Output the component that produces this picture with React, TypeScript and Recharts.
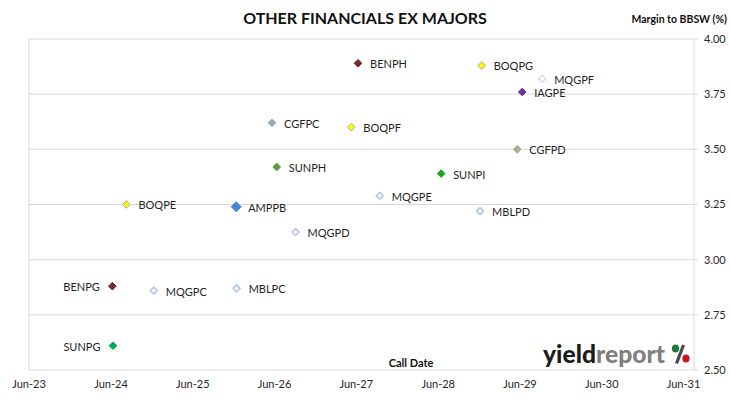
import {
  CartesianGrid,
  ReferenceLine,
  Scatter,
  ScatterChart,
  XAxis,
  YAxis
} from "recharts";

const names = [
  "BENPH", "BOQPG", "MQGPF", "IAGPE", "CGFPC", "BOQPF", "CGFPD", "SUNPH", "SUNPI",
  "MQGPE", "BOQPE", "AMPPB", "MBLPD", "MQGPD", "BENPG", "MQGPC", "MBLPC", "SUNPG"
];

const callDates = [
  "2027-06-09", "2028-12-12", "2029-09-08", "2029-06-11", "2026-05-21", "2027-05-10",
  "2029-05-20", "2026-06-11", "2028-06-14", "2027-09-14", "2024-08-09", "2025-12-12",
  "2028-12-05", "2026-09-03", "2024-06-07", "2024-12-09", "2025-12-14", "2024-06-10"
];

const margins = [
  3.89, 3.88, 3.82, 3.76, 3.62, 3.6, 3.5, 3.42, 3.39,
  3.29, 3.25, 3.24, 3.22, 3.125, 2.88, 2.86, 2.87, 2.61
];

const yTicks = [2.5, 2.75, 3.0, 3.25, 3.5, 3.75, 4.0];
const tickYears = [2023, 2024, 2025, 2026, 2027, 2028, 2029, 2030, 2031];

const X_MIN = Date.UTC(2023, 5, 1);
const X_MAX = Date.UTC(2031, 6, 18);
const xTicks = tickYears.map((y) => Date.UTC(y, 5, 1));

type MarkerStyle = { fill: string; stroke: string; r?: number; sw?: number };

const HOLLOW: MarkerStyle = { fill: "#ffffff", stroke: "#b4c6e4", sw: 1.6, r: 3.4 };
const YELLOW: MarkerStyle = { fill: "#ffff00", stroke: "#a6a6a6" };

const MARKER_STYLES: Record<string, MarkerStyle> = {
  BENPH: { fill: "#7b2c2c", stroke: "#5e1f1f" },
  BENPG: { fill: "#7b2c2c", stroke: "#5e1f1f" },
  BOQPE: YELLOW,
  BOQPF: YELLOW,
  BOQPG: YELLOW,
  MQGPC: HOLLOW,
  MQGPD: HOLLOW,
  MQGPE: HOLLOW,
  MQGPF: { fill: "#ffffff", stroke: "#ccd6e8", sw: 1.2, r: 3.6 },
  MBLPC: HOLLOW,
  MBLPD: HOLLOW,
  IAGPE: { fill: "#7030a0", stroke: "#6a2c98" },
  CGFPC: { fill: "#8eaec4", stroke: "#9aa5ab" },
  CGFPD: { fill: "#a4b58a", stroke: "#9ba38f" },
  SUNPH: { fill: "#5e9b3c", stroke: "#5a9338" },
  SUNPI: { fill: "#18a818", stroke: "#18a018" },
  SUNPG: { fill: "#00b050", stroke: "#00a04a" },
  AMPPB: { fill: "#4a86d6", stroke: "#4a80cc", r: 5 }
};

const LEFT_LABELS = ["BENPG", "SUNPG"];

const data = names.map((name, i) => ({
  name,
  date: Date.parse(callDates[i] + "T00:00:00Z"),
  margin: margins[i]
}));

const FONT = "Lato, 'Open Sans', sans-serif";

function renderPoint(props: any) {
  const { cx, cy, payload } = props;
  const st = MARKER_STYLES[payload.name] ?? { fill: "#888", stroke: "#888" };
  const r = st.r ?? 3.8;
  const left = LEFT_LABELS.includes(payload.name);
  return (
    <g>
      <path
        d={`M${cx},${cy - r}L${cx + r},${cy}L${cx},${cy + r}L${cx - r},${cy}Z`}
        fill={st.fill}
        stroke={st.stroke}
        strokeWidth={st.sw ?? 1}
      />
      <text
        x={left ? cx - 12.5 : cx + 12}
        y={cy + 1}
        dy="0.36em"
        textAnchor={left ? "end" : "start"}
        fontFamily={FONT}
        fontSize={11}
        fill="#1f1f1f"
      >
        {payload.name}
      </text>
    </g>
  );
}

const fmtDate = (t: number) => {
  const d = new Date(t);
  return "Jun-" + String(d.getUTCFullYear() % 100).padStart(2, "0");
};

export default function App() {
  return (
    <div style={{ position: "absolute", left: 0, top: 0, width: 730, height: 399, background: "#fff" }}>
      <ScatterChart
        width={730}
        height={399}
        margin={{ top: 39, right: 0, bottom: 0, left: 29 }}
      >
        <CartesianGrid stroke="#d9d9d9" vertical={false} />
        <XAxis
          type="number"
          dataKey="date"
          domain={[X_MIN, X_MAX]}
          ticks={xTicks}
          tickFormatter={fmtDate}
          height={29}
          axisLine={false}
          tickLine={false}
          tickSize={0}
          tickMargin={10}
          interval={0}
          allowDataOverflow
          tick={{ fill: "#262626", fontSize: 11, fontFamily: FONT }}
        />
        <YAxis
          type="number"
          dataKey="margin"
          orientation="right"
          domain={[2.5, 4]}
          ticks={yTicks}
          tickFormatter={(v: number) => v.toFixed(2)}
          width={36}
          axisLine={{ stroke: "#d9d9d9" }}
          tickLine={{ stroke: "#d9d9d9" }}
          tickSize={4}
          tickMargin={6}
          interval={0}
          allowDataOverflow
          tick={{ fill: "#262626", fontSize: 11, fontFamily: FONT }}
        />
        <ReferenceLine x={X_MIN} stroke="#d9d9d9" />
        <Scatter data={data} shape={renderPoint} isAnimationActive={false} />
      </ScatterChart>
      <svg
        width={730}
        height={399}
        style={{ position: "absolute", left: 0, top: 0, pointerEvents: "none" }}
      >
        <text x={365} y={24} textAnchor="middle" fontFamily={FONT} fontWeight={700} fontSize={16} fill="#111">
          OTHER FINANCIALS EX MAJORS
        </text>
        <text x={727} y={23} textAnchor="end" fontFamily={FONT} fontWeight={700} fontSize={10.5} fill="#111">
          Margin to BBSW (%)
        </text>
        <text x={411} y={366.5} textAnchor="middle" fontFamily={FONT} fontWeight={700} fontSize={11} fill="#111">
          Call Date
        </text>
        <text
          x={543}
          y={363}
          fontFamily={FONT}
          fontWeight={900}
          fontSize={24}
          textLength={122}
          lengthAdjust="spacingAndGlyphs"
        >
          <tspan fill="#1c1c1c">yield</tspan>
          <tspan fill="#7f7f7f">report</tspan>
        </text>
        <line x1={683.5} y1={345} x2={676.5} y2={363.5} stroke="#4a4a4a" strokeWidth={3.2} />
        <ellipse cx={675.5} cy={348.5} rx={3.6} ry={4} fill="#1f7a3a" />
        <ellipse cx={686} cy={358.5} rx={3.6} ry={4} fill="#c4161c" />
      </svg>
    </div>
  );
}
